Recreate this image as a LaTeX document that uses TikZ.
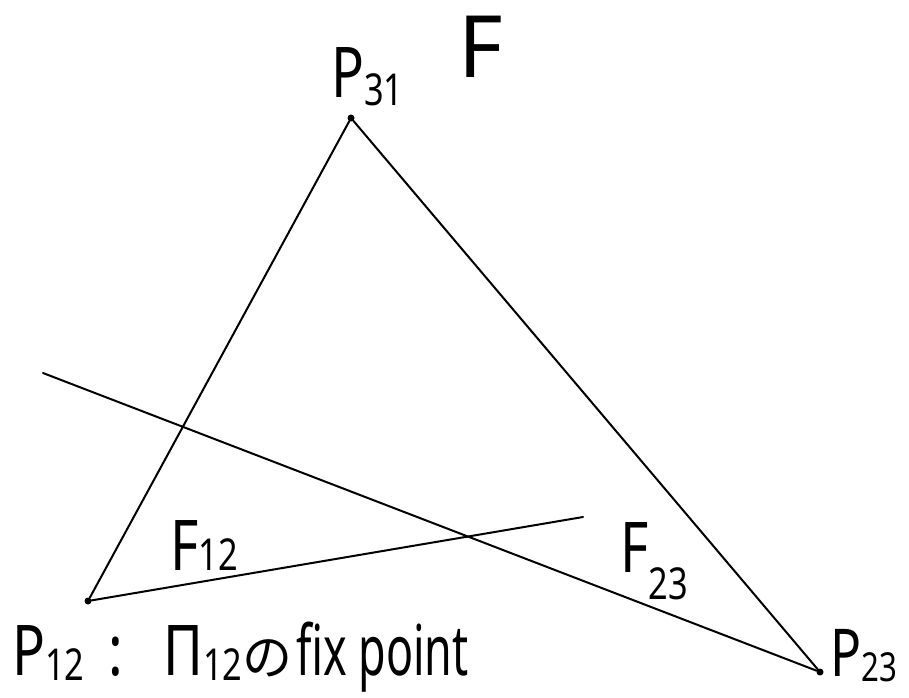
\documentclass[tikz,border=0pt]{standalone}
\usepackage{fontspec}
\setmainfont{Noto Sans}
\newfontfamily\hand[FakeStretch=0.78]{Noto Sans}
\newfontfamily\handnarrow[FakeStretch=0.64]{Noto Sans}
\newfontfamily\cjk{Noto Sans CJK JP}
\newcommand{\lowsub}[2]{\raisebox{-#1}{\fontsize{44}{48}\selectfont #2}}
\begin{document}
\begin{tikzpicture}[x=1pt,y=-1pt,
  edge/.style={line width=2pt,line cap=round},
  vtx/.style={circle,fill=black,inner sep=0pt,minimum size=7pt},
  lbl/.style={inner sep=0pt,anchor=base west,font=\hand\fontsize{70}{74}\selectfont}]
\useasboundingbox (0,0) rectangle (909,697);
\node[vtx] (p31) at (351,118) {};
\node[vtx] (p12) at (88,601) {};
\node[vtx] (p23) at (820,672) {};
\coordinate (f12end) at (583,517);
\coordinate (f23start) at (43,373);
\draw[edge] (p31) -- (p12);
\draw[edge] (p31) -- (p23);
\draw[edge] (p12) -- (f12end);
\draw[edge] (f23start) -- (p23);
\node[lbl,font=\fontsize{86}{90}\selectfont] (tF) at (458,77) {F};
\node[lbl] (tp31) at (331,97) {P\lowsub{8pt}{31}};
\node[lbl] (tf12) at (170,570) {F\lowsub{0pt}{12}};
\node[lbl] (tf23) at (620,572) {F\lowsub{27pt}{23}};
\node[lbl,font=\hand\fontsize{66}{70}\selectfont] (tp23) at (830,676) {P\raisebox{-5pt}{\fontsize{40}{44}\selectfont 23}};
\node[lbl] (tp12) at (12,675) {P\lowsub{5pt}{12}\hspace{24pt}:\hspace{40pt}Π\lowsub{5pt}{12}{\cjk\fontsize{50}{54}\selectfont の}\hspace{4pt}{\handnarrow fix point}};
\end{tikzpicture}
\end{document}
